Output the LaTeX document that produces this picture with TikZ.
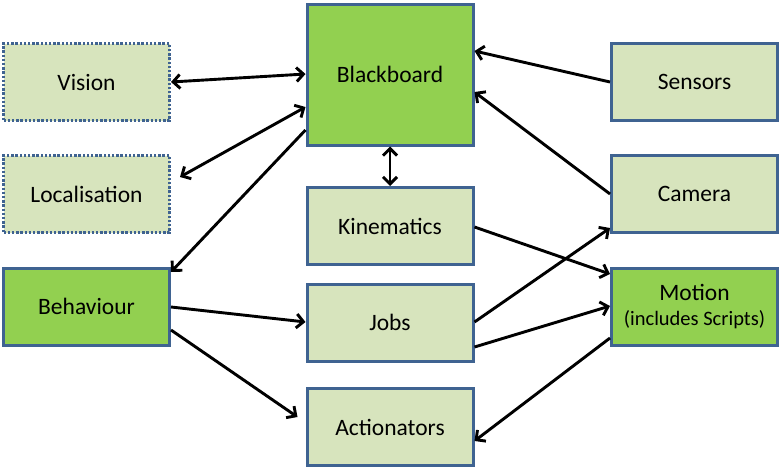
\documentclass[tikz,border=0pt]{standalone}
\usepackage{fontspec}
\setmainfont{Carlito}
\usetikzlibrary{arrows.meta,calc}
\definecolor{bordc}{HTML}{3F6391}
\definecolor{lightg}{HTML}{D7E4BD}
\definecolor{darkg}{HTML}{92D050}
\begin{document}
\begin{tikzpicture}[x=1pt,y=-1pt,
  box/.style={draw=bordc,line width=3pt,fill=lightg,inner sep=0pt,
    minimum width=166pt,minimum height=77pt,align=center,
    font=\fontsize{23.5}{27}\selectfont},
  gbox/.style={box,fill=darkg},
  dbox/.style={box,dash pattern=on 2.4pt off 1.8pt},
  conn/.style={line width=2.9pt,-{Straight Barb[length=7pt,width=14pt]}},
  bconn/.style={line width=2.9pt,{Straight Barb[length=7pt,width=14pt]}-{Straight Barb[length=7pt,width=14pt]}}]
\useasboundingbox (0,0) rectangle (781,469);
\node[dbox] (vision) at (86.5,82) {Vision};
\node[dbox] (loc) at (86.5,194) {Localisation};
\node[gbox] (beh) at (86.5,306.5) {Behaviour};
\node[gbox,minimum height=141pt] (bb) at (390,74.5) {Blackboard};
\node[box] (kin) at (390,226) {Kinematics};
\node[box] (jobs) at (390,322.5) {Jobs};
\node[box] (act) at (390,427) {Actionators};
\node[box] (sens) at (694.5,82) {Sensors};
\node[box] (cam) at (694.5,194) {Camera};
\node[gbox] (mot) at (694.5,306.5) {Motion\\[-2pt]{\fontsize{20.5}{24}\selectfont(includes Scripts)}};
% connectors
\draw[bconn] (vision.east) -- (bb.west |- 0,74);
\draw[bconn] ($(loc.east |- 0,177)+(9,0)$) -- (bb.west |- 0,107);
\draw[conn] (bb.west |- 0,130) -- (beh.east |- 0,272);
\draw[bconn] (bb.south) -- (kin.north);
\draw[conn] (sens.west) -- (bb.east |- 0,51);
\draw[conn] (cam.west) -- (bb.east |- 0,92);
\draw[conn] (kin.east |- 0,227) -- (mot.west |- 0,274);
\draw[conn] (jobs.east |- 0,322) -- (cam.west |- 0,228);
\draw[conn] (jobs.east |- 0,347) -- (mot.west |- 0,306);
\draw[conn] (mot.west |- 0,338) -- (act.east |- 0,441);
\draw[conn] (beh.east |- 0,307) -- (jobs.west |- 0,322);
\draw[conn] (beh.east |- 0,330) -- ($(act.west |- 0,417)+(-8,0)$);
\end{tikzpicture}
\end{document}
